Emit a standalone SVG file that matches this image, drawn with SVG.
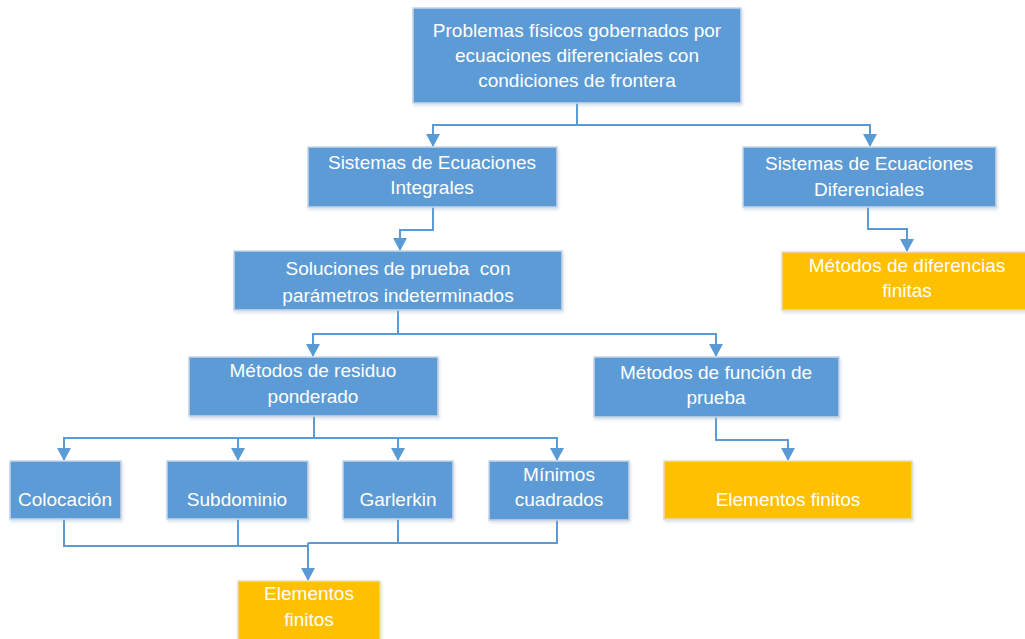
<svg xmlns="http://www.w3.org/2000/svg" width="1025" height="639" viewBox="0 0 1025 639">
  <style>
    .blue { fill: #5b9bd5; stroke: #c9d6e6; stroke-width: 1.5; filter: url(#shadow); }
    .gold { fill: #ffc000; stroke: #e6dcc0; stroke-width: 1.5; filter: url(#shadow); }
    .lbl { font-family: "Liberation Sans", Arial, sans-serif; font-size: 19px; fill: #ffffff; text-anchor: middle; dominant-baseline: central; white-space: pre; }
    .wire { fill: none; stroke: #5b9bd5; stroke-width: 2; }
  </style>
  <defs>
    <filter id="shadow" x="-5%" y="-10%" width="110%" height="125%">
      <feDropShadow dx="1" dy="2" stdDeviation="1.5" flood-color="#8fa8c4" flood-opacity="0.35"/>
    </filter>
    <marker id="arrow" viewBox="0 0 13 14" refX="12" refY="7" markerWidth="13" markerHeight="14" markerUnits="userSpaceOnUse" orient="auto">
      <path d="M0,0 L13,7 L0,14 Z" fill="#5b9bd5"/>
    </marker>
  </defs>

  <rect width="1025" height="639" fill="#ffffff"/>

  <!-- connectors -->
  <g id="connectors">
    <path class="wire" d="M577,103 V125 H433 V146" marker-end="url(#arrow)"/>
    <path class="wire" d="M577,125 H870 V146" marker-end="url(#arrow)"/>
    <path class="wire" d="M433,207 V230 H400 V250" marker-end="url(#arrow)"/>
    <path class="wire" d="M868,207 V229 H907 V251" marker-end="url(#arrow)"/>
    <path class="wire" d="M398,310 V334 H313 V356" marker-end="url(#arrow)"/>
    <path class="wire" d="M398,334 H716 V356" marker-end="url(#arrow)"/>
    <path class="wire" d="M314,416 V438 H64 V460" marker-end="url(#arrow)"/>
    <path class="wire" d="M238,438 V460" marker-end="url(#arrow)"/>
    <path class="wire" d="M398,438 V460" marker-end="url(#arrow)"/>
    <path class="wire" d="M314,438 H557 V460" marker-end="url(#arrow)"/>
    <path class="wire" d="M716,417 V440 H788 V460" marker-end="url(#arrow)"/>
    <path class="wire" d="M64,519 V546 H308"/>
    <path class="wire" d="M238,519 V546"/>
    <path class="wire" d="M398,519 V543 H308"/>
    <path class="wire" d="M557,519 V543 H398"/>
    <path class="wire" d="M308,543 V580" marker-end="url(#arrow)"/>
  </g>

  <!-- nodes -->
  <g id="problemas">
    <rect class="blue" x="413" y="8" width="328" height="95"/>
    <text class="lbl" x="577" y="30">Problemas físicos gobernados por</text>
    <text class="lbl" x="577" y="55">ecuaciones diferenciales con</text>
    <text class="lbl" x="577" y="80">condiciones de frontera</text>
  </g>
  <g id="integrales">
    <rect class="blue" x="308" y="147" width="249" height="60"/>
    <text class="lbl" x="432" y="162">Sistemas de Ecuaciones</text>
    <text class="lbl" x="432" y="187">Integrales</text>
  </g>
  <g id="diferenciales">
    <rect class="blue" x="743" y="147" width="253" height="60"/>
    <text class="lbl" x="869" y="163">Sistemas de Ecuaciones</text>
    <text class="lbl" x="869" y="189">Diferenciales</text>
  </g>
  <g id="diferencias-finitas">
    <rect class="gold" x="782" y="252" width="250" height="58"/>
    <text class="lbl" x="907" y="265">Métodos de diferencias</text>
    <text class="lbl" x="907" y="290">finitas</text>
  </g>
  <g id="soluciones">
    <rect class="blue" x="234" y="251" width="328" height="59"/>
    <text class="lbl" x="398" y="268" xml:space="preserve">Soluciones de prueba  con</text>
    <text class="lbl" x="398" y="295">parámetros indeterminados</text>
  </g>
  <g id="residuo">
    <rect class="blue" x="189" y="357" width="249" height="59"/>
    <text class="lbl" x="313" y="370">Métodos de residuo</text>
    <text class="lbl" x="313" y="396">ponderado</text>
  </g>
  <g id="funcion">
    <rect class="blue" x="594" y="357" width="245" height="60"/>
    <text class="lbl" x="716" y="372">Métodos de función de</text>
    <text class="lbl" x="716" y="397">prueba</text>
  </g>
  <g id="colocacion">
    <rect class="blue" x="10" y="461" width="111" height="58"/>
    <text class="lbl" x="65" y="499">Colocación</text>
  </g>
  <g id="subdominio">
    <rect class="blue" x="167" y="461" width="141" height="58"/>
    <text class="lbl" x="237" y="499">Subdominio</text>
  </g>
  <g id="garlerkin">
    <rect class="blue" x="343" y="461" width="110" height="58"/>
    <text class="lbl" x="398" y="499">Garlerkin</text>
  </g>
  <g id="minimos">
    <rect class="blue" x="489" y="461" width="140" height="59"/>
    <text class="lbl" x="559" y="474">Mínimos</text>
    <text class="lbl" x="559" y="499">cuadrados</text>
  </g>
  <g id="elementos-finitos-funcion">
    <rect class="gold" x="664" y="461" width="248" height="58"/>
    <text class="lbl" x="788" y="499">Elementos finitos</text>
  </g>
  <g id="elementos-finitos-residuo">
    <rect class="gold" x="238" y="581" width="142" height="64"/>
    <text class="lbl" x="309" y="593">Elementos</text>
    <text class="lbl" x="309" y="619">finitos</text>
  </g>
</svg>
